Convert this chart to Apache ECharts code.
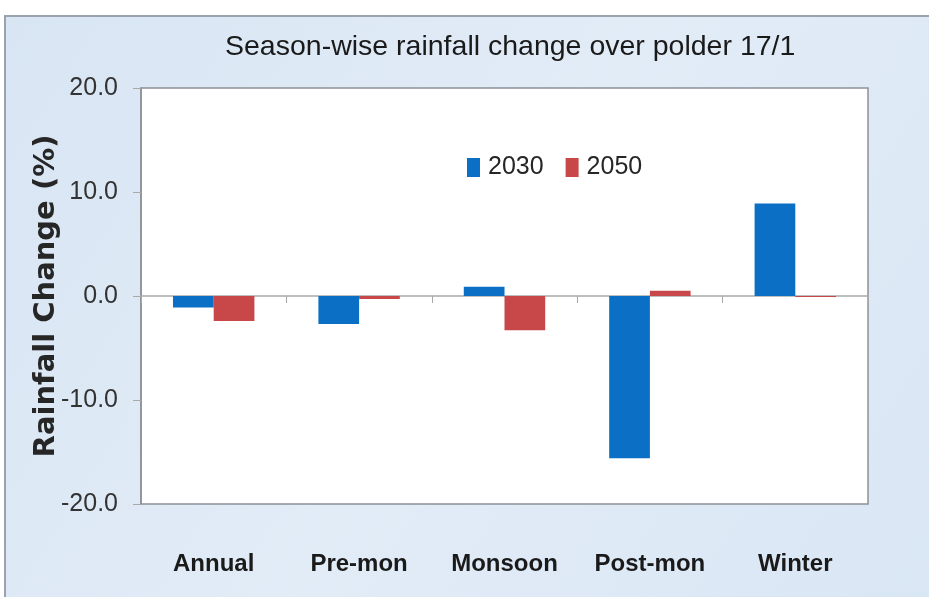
<!DOCTYPE html>
<html>
<head>
<meta charset="utf-8">
<script src="https://cdn.jsdelivr.net/npm/echarts@6/dist/echarts.min.js"></script>
<style>
  html, body { margin: 0; padding: 0; background: #ffffff; }
  #rain_chart { width: 929px; height: 597px; }
</style>
</head>
<body>
<div id="rain_chart"></div>
<script>
// data
var seasons = ["Annual", "Pre-mon", "Monsoon", "Post-mon", "Winter"];
var seriesNames = ["2030", "2050"];
var change2030 = [-1.1, -2.7, 0.9, -15.6, 8.9];
var change2050 = [-2.4, -0.3, -3.3, 0.5, -0.1];
var yTicks = [-20, -10, 0, 10, 20];

var myChart = echarts.init(document.getElementById("rain_chart"));

var option = {
  backgroundColor: "#ffffff",
  color: ["#0b6fc6", "#c8484a"],
  // light blue chart panel
  graphic: [
    {
      type: "rect",
      z: -10,
      shape: { x: 5, y: 16, width: 930, height: 590 },
      style: {
        fill: {
          type: "linear", x: 0, y: 0, x2: 1, y2: 1,
          colorStops: [
            { offset: 0, color: "#d8e5f3" },
            { offset: 0.5, color: "#e2ecf7" },
            { offset: 1, color: "#d9e6f4" }
          ]
        },
        stroke: "#9aa3ad",
        lineWidth: 2
      }
    }
  ],
  title: {
    text: "Season-wise rainfall change over polder 17/1",
    left: 220,
    top: 28,
    textStyle: {
      fontFamily: "Liberation Sans",
      fontWeight: "normal",
      fontSize: 28.5,
      color: "#1a1a1a"
    }
  },
  legend: {
    data: seriesNames,
    left: 462,
    top: 150,
    itemWidth: 13,
    itemHeight: 19,
    itemGap: 22,
    icon: "rect",
    textStyle: {
      fontFamily: "Liberation Sans",
      fontSize: 25,
      color: "#262626",
      padding: [0, 0, 0, 3]
    }
  },
  grid: {
    left: 141,
    right: 61,
    top: 88,
    bottom: 93,
    show: true,
    backgroundColor: "#ffffff",
    borderColor: "#8c9196",
    borderWidth: 1.5
  },
  xAxis: [
    {
      // zero line with the boundary ticks
      type: "category",
      data: seasons,
      axisLine: { onZero: true, lineStyle: { color: "#a9a9a9", width: 1.5 } },
      axisTick: { show: true, length: 7, lineStyle: { color: "#a9a9a9" } },
      axisLabel: { show: false },
      splitLine: { show: false }
    },
    {
      // category labels at the bottom
      type: "category",
      data: seasons,
      position: "bottom",
      axisLine: { show: false, onZero: false },
      axisTick: { show: false },
      axisLabel: {
        margin: 48,
        fontFamily: "Liberation Sans",
        fontWeight: "bold",
        fontSize: 24,
        color: "#1a1a1a"
      }
    }
  ],
  yAxis: {
    type: "value",
    min: yTicks[0],
    max: yTicks[yTicks.length - 1],
    interval: 10,
    name: "Rainfall Change (%)",
    nameLocation: "middle",
    nameGap: 80,
    nameMoveOverlap: false,
    nameTextStyle: {
      fontFamily: "DejaVu Sans",
      fontWeight: "bold",
      fontSize: 29,
      color: "#262626"
    },
    axisLine: { show: true, lineStyle: { color: "#8c9196", width: 1.5 } },
    axisTick: { show: true, length: 8, lineStyle: { color: "#a9a9a9" } },
    axisLabel: {
      margin: 23,
      fontFamily: "Liberation Sans",
      fontSize: 25,
      color: "#333333",
      formatter: function (v) { return v.toFixed(1); }
    },
    splitLine: { show: false }
  },
  series: [
    {
      name: seriesNames[0],
      type: "bar",
      xAxisIndex: 0,
      barGap: "0%",
      barCategoryGap: "44%",
      data: change2030
    },
    {
      name: seriesNames[1],
      type: "bar",
      xAxisIndex: 0,
      barGap: "0%",
      barCategoryGap: "44%",
      data: change2050
    }
  ]
};

myChart.setOption(option);
</script>
</body>
</html>
